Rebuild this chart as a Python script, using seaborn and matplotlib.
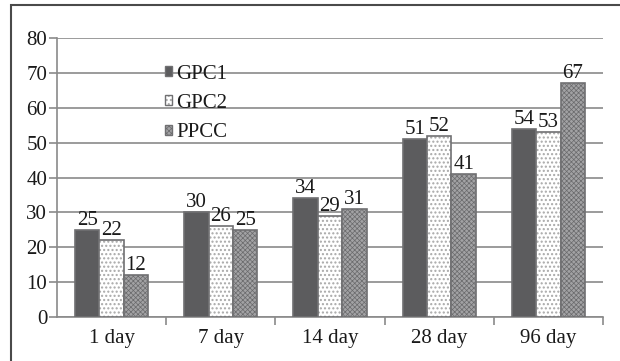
import matplotlib
matplotlib.use("Agg")
import matplotlib.pyplot as plt
from matplotlib.patches import Rectangle, Patch
import seaborn as sns
import pandas as pd

categories = ["1 day", "7 day", "14 day", "28 day", "96 day"]
series = ["GPC1", "GPC2", "PPCC"]
gpc1 = [25, 30, 34, 51, 54]
gpc2 = [22, 26, 29, 52, 53]
ppcc = [12, 25, 31, 41, 67]
y_ticks = [0, 10, 20, 30, 40, 50, 60, 70, 80]

rows = []
for name, vals in zip(series, [gpc1, gpc2, ppcc]):
    for cat, v in zip(categories, vals):
        rows.append({"age": cat, "mix": name, "strength": v})
df = pd.DataFrame(rows)

sns.set_theme(style="white")
plt.rcParams["font.family"] = ["Liberation Serif", "DejaVu Serif"]
plt.rcParams["hatch.linewidth"] = 0.8

FS = 15
TXT = "#1a1a1a"
fills = {"GPC1": "#5c5c5e", "GPC2": "#ffffff", "PPCC": "#a2a2a4"}
hatches = {"GPC1": "", "GPC2": "....", "PPCC": "xxxxxxx"}
hatch_cols = {"GPC1": "#5c5c5e", "GPC2": "#a8a8a8", "PPCC": "#6a6a6c"}
hatch_lw = {"GPC1": 0.8, "GPC2": 1.0, "PPCC": 0.5}

fig = plt.figure(figsize=(6.2, 3.61), dpi=100)
ax = fig.add_axes([57 / 620, 1 - 317 / 361, (603 - 57) / 620, (317 - 38) / 361])

sns.barplot(data=df, x="age", y="strength", hue="mix", order=categories,
            hue_order=series, palette=fills, width=0.67, ax=ax,
            edgecolor="#707072", linewidth=1.2, legend=False, saturation=1)


def style_patch(p, name):
    p.set_hatch(hatches[name])
    p._hatch_color = matplotlib.colors.to_rgba(hatch_cols[name])
    if hasattr(p, "_hatch_linewidth"):
        p._hatch_linewidth = hatch_lw[name]


for cont, name in zip(ax.containers, series):
    for p in cont:
        style_patch(p, name)
        p.set_zorder(3)
    ax.bar_label(cont, labels=[str(int(v)) for v in cont.datavalues],
                 padding=0, fontsize=FS, color=TXT)

ax.set_ylim(0, 80)
ax.set_xlim(-0.5, 4.5)
ax.set_yticks(y_ticks)
ax.set_yticklabels([str(t) for t in y_ticks], fontsize=FS, color=TXT)
ax.set_xticks(range(len(categories)))
ax.set_xticklabels(categories, fontsize=FS, color=TXT)
ax.set_xlabel("")
ax.set_ylabel("")

ax.grid(axis="y", color="#8a8a8a", linewidth=1.2, zorder=0)
ax.set_axisbelow(True)
for s in ["top", "right"]:
    ax.spines[s].set_visible(False)
for s in ["left", "bottom"]:
    ax.spines[s].set_color("#8a8a8a")
    ax.spines[s].set_linewidth(1.2)

ax.tick_params(axis="y", which="major", left=True, length=6, width=1.2,
               color="#8a8a8a", pad=1)
ax.tick_params(axis="x", which="major", bottom=False, pad=3)
ax.set_xticks([0.5, 1.5, 2.5, 3.5, 4.5], minor=True)
ax.tick_params(axis="x", which="minor", bottom=True, length=6, width=1.2,
               color="#8a8a8a")

handles = []
for n in series:
    h = Patch(facecolor=fills[n], edgecolor="#707072", hatch=hatches[n])
    handles.append(h)
leg = ax.legend(handles, series, loc="upper left", bbox_to_anchor=(0.197, 0.905),
                frameon=False, fontsize=FS, handlelength=0.36,
                handleheight=0.36, handletextpad=0.2, labelspacing=0.5,
                borderaxespad=0, borderpad=0)
for t in leg.get_texts():
    t.set_color(TXT)
for h, n in zip(leg.legend_handles, series):
    style_patch(h, n)

fig.patches.append(Rectangle((11 / 620, -0.1), 1.2, 1.1 - 5 / 361,
                             transform=fig.transFigure, fill=False,
                             edgecolor="#4a4a4a", linewidth=1.5))

fig.savefig("out.png", dpi=100, facecolor="white")
